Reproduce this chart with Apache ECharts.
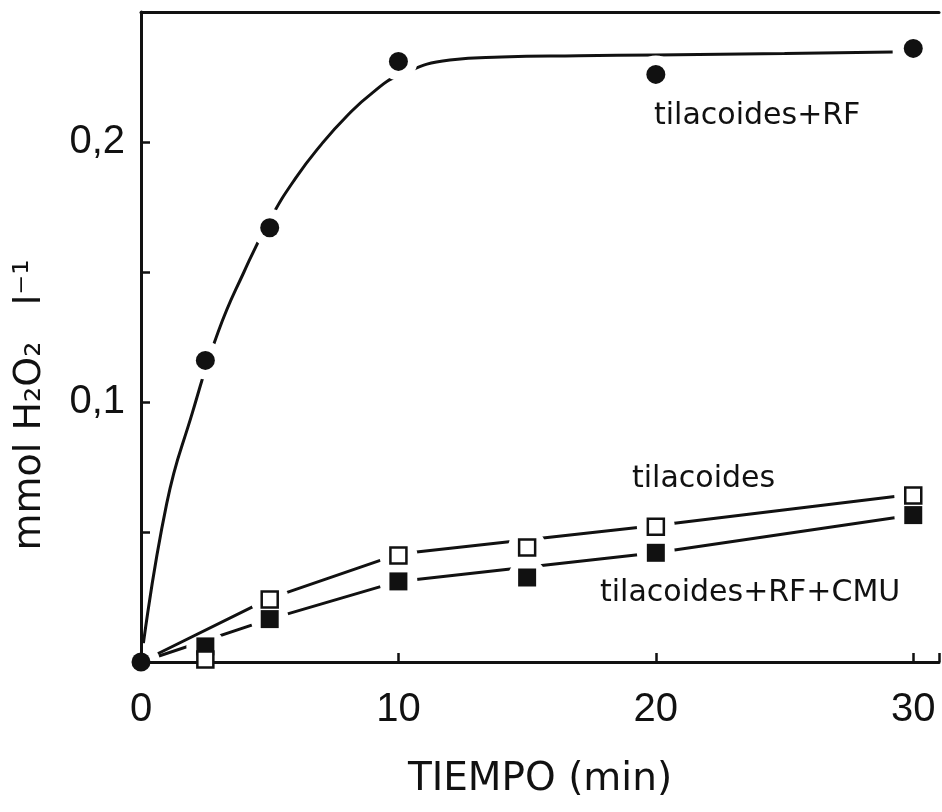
<!DOCTYPE html>
<html>
<head>
<meta charset="utf-8">
<script src="https://cdn.jsdelivr.net/npm/echarts@6/dist/echarts.min.js"></script>
<style>html,body{margin:0;padding:0;background:#fff}#c{width:942px;height:812px}</style>
</head>
<body>
<div id="c"></div>
<script>
// ---- data ----
const timeRF = [0, 2.5, 5, 10, 20, 30];
const valRF  = [0, 0.116, 0.167, 0.231, 0.226, 0.236];          // tilacoides+RF (filled circles)
const timeSq = [2.5, 5, 10, 15, 20, 30];
const valTil = [0.001, 0.024, 0.041, 0.044, 0.052, 0.064];      // tilacoides (open squares)
const valCMU = [0.006, 0.0165, 0.031, 0.0325, 0.042, 0.0565];   // tilacoides+RF+CMU (filled squares)

// hand-drawn fitted curves
const fitRFx  = [0, 1, 2, 3, 4, 5, 6, 7, 8, 9, 10, 12, 14, 17, 20, 25, 29.2];
const fitRFy  = [0, 0.061, 0.096, 0.127, 0.150, 0.170, 0.186, 0.199, 0.210, 0.219, 0.2255, 0.2315, 0.2327, 0.2332, 0.2335, 0.234, 0.2346];
const fitTilx = [0, 5, 10, 20, 30];
const fitTily = [0, 0.0245, 0.0415, 0.0525, 0.0645];
const fitCMUx = [0, 5, 10, 20, 30];
const fitCMUy = [0, 0.0165, 0.031, 0.042, 0.0565];

const xTickValues = [0, 10, 20, 30];
const xTickLabels = ['0', '10', '20', '30'];
const yLabelValues = [0.1, 0.2];
const yLabelTexts  = ['0,1', '0,2'];

const seriesNames = ['tilacoides+RF', 'tilacoides', 'tilacoides+RF+CMU'];

const zip = (xs, ys) => xs.map((x, i) => [x, ys[i]]);
const INK = '#111';

const chart = echarts.init(document.getElementById('c'));

function lineSeries(data, z, smooth) {
  return {type: 'line', data, z: z, symbol: 'none', lineStyle: {color: INK, width: 3}, smooth: smooth};
}
function haloSeries(data, z) {
  return {type: 'scatter', data, z: z, symbol: 'circle', symbolSize: 38, itemStyle: {color: 'white', opacity: 1}};
}

// all markers in one scatter series, styled per item
const markerItems = [].concat(
  timeSq.map((x, i) => ({value: [x, valCMU[i]], symbol: 'rect', symbolSize: 18, itemStyle: {color: INK}})),
  timeSq.map((x, i) => ({value: [x, valTil[i]], symbol: 'rect', symbolSize: 16, itemStyle: {color: 'white', borderColor: INK, borderWidth: 2.5}})),
  timeRF.map((x, i) => ({value: [x, valRF[i]], symbol: 'circle', symbolSize: 19, itemStyle: {color: INK}}))
);

const labelFont = {fontFamily: 'DejaVu Sans', fontSize: 30, fontWeight: 'normal', color: INK};

const option = {
  animation: false,
  backgroundColor: '#fff',
  title: [
    {text: seriesNames[0], left: 654, top: 101, padding: 0, textStyle: labelFont},
    {text: seriesNames[1], left: 632, top: 464, padding: 0, textStyle: labelFont},
    {text: seriesNames[2], left: 600, top: 578, padding: 0, textStyle: labelFont}
  ],
  grid: {left: 141, right: 0, top: 12, bottom: 150},
  xAxis: [{
    type: 'value', min: 0, max: 31, interval: 10, z: 20,
    name: 'TIEMPO (min)', nameLocation: 'middle', nameGap: 98,
    nameTextStyle: {fontFamily: 'DejaVu Sans', fontSize: 39, color: INK},
    axisLine: {show: true, lineStyle: {color: INK, width: 3}},
    axisTick: {show: true, inside: true, length: 9, lineStyle: {color: INK, width: 2.5}},
    splitLine: {show: false},
    axisLabel: {
      margin: 28, fontFamily: 'Liberation Sans', fontSize: 40, color: INK,
      formatter: v => {
        const i = xTickValues.indexOf(v);
        return i < 0 ? '' : xTickLabels[i];
      }
    }
  }, {
    type: 'value', position: 'top', min: 0, max: 31, z: 20,
    axisLine: {show: true, lineStyle: {color: INK, width: 3}},
    axisTick: {show: false}, axisLabel: {show: false}, splitLine: {show: false}
  }],
  yAxis: {
    type: 'value', min: 0, max: 0.25, interval: 0.05, z: 20,
    name: 'mmol H₂O₂   l⁻¹', nameLocation: 'middle', nameGap: 92,
    nameTextStyle: {fontFamily: 'DejaVu Sans', fontSize: 38, color: INK, padding: [0, 136, 0, 0]},
    axisLine: {show: true, lineStyle: {color: INK, width: 3}},
    axisTick: {show: true, inside: true, length: 9, lineStyle: {color: INK, width: 2.5}},
    splitLine: {show: false},
    axisLabel: {
      margin: 16, fontFamily: 'Liberation Sans', fontSize: 40, color: INK,
      formatter: v => {
        const i = yLabelValues.findIndex(a => Math.abs(a - v) < 1e-9);
        return i >= 0 ? yLabelTexts[i] : '';
      }
    }
  },
  series: [
    lineSeries(zip(fitCMUx, fitCMUy), 2, false),
    haloSeries(zip(timeSq, valCMU), 4),
    lineSeries(zip(fitTilx, fitTily), 6, false),
    haloSeries(zip(timeSq, valTil), 8),
    lineSeries(zip(fitRFx, fitRFy), 10, 0.5),
    haloSeries(zip(timeRF, valRF), 12),
    {type: 'scatter', z: 30, data: markerItems, itemStyle: {opacity: 1}}
  ]
};
chart.setOption(option);
</script>
</body>
</html>
